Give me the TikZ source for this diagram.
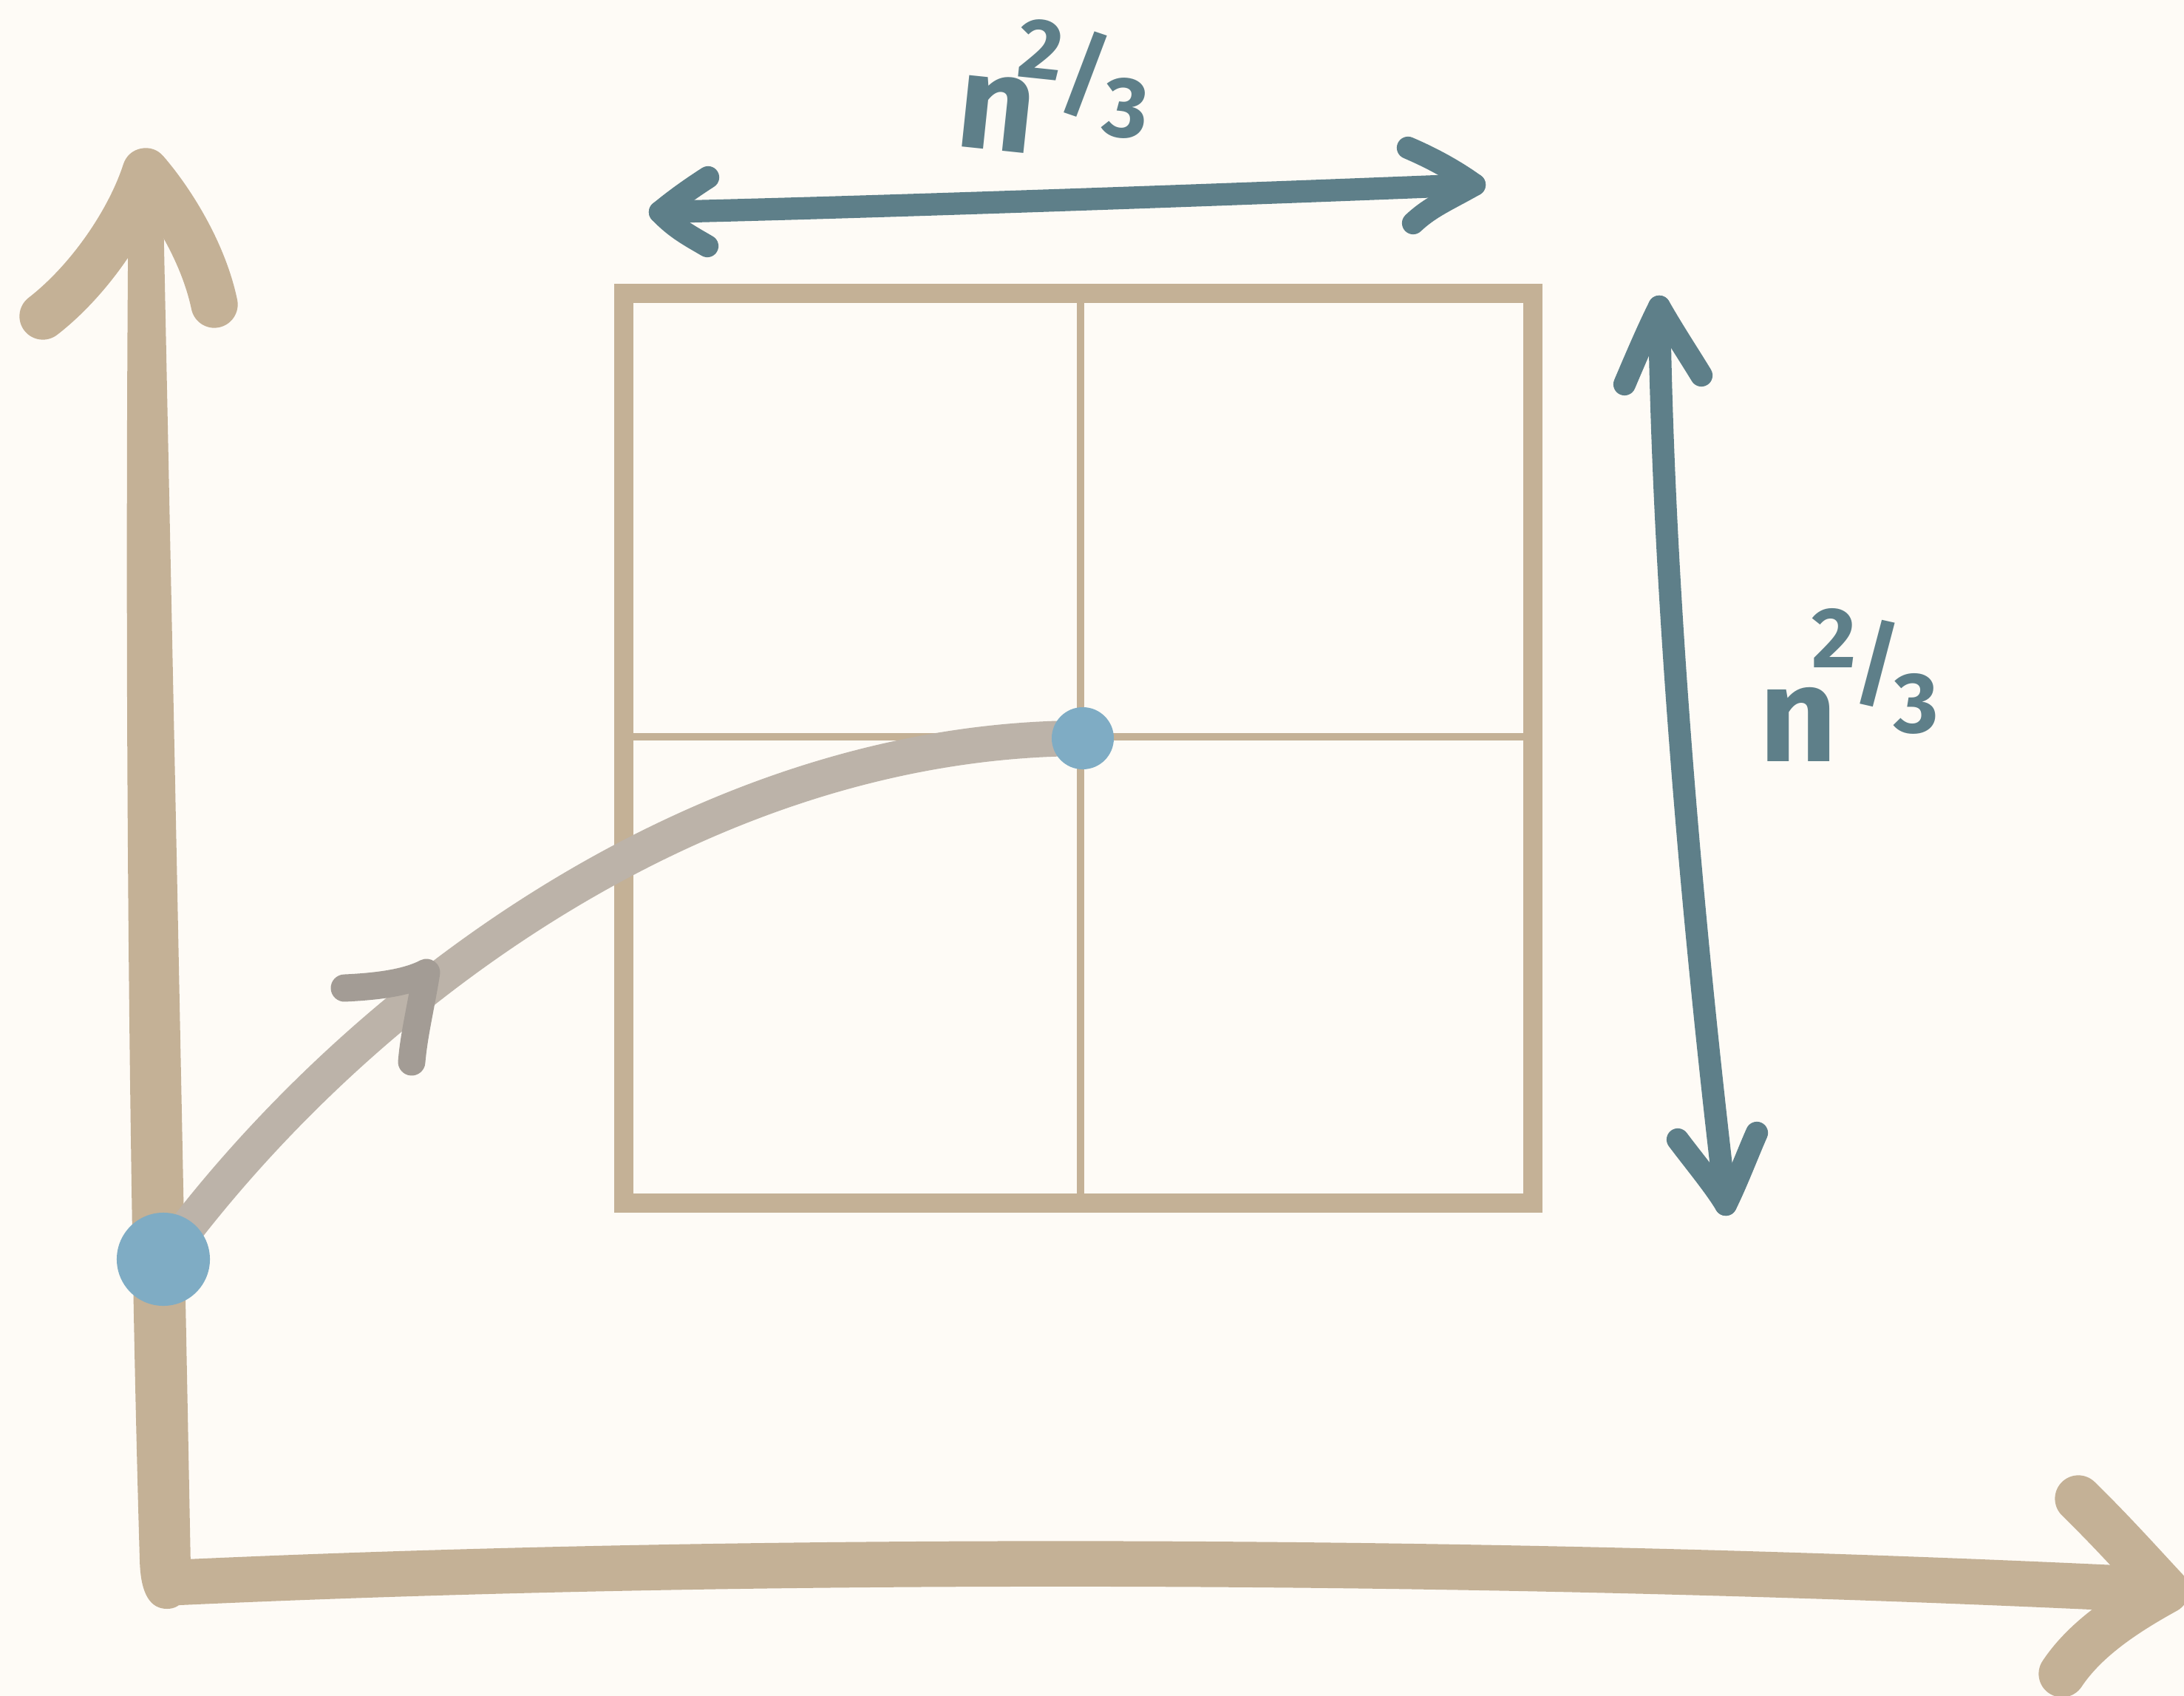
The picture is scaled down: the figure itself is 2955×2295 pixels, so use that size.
\documentclass[tikz,border=0pt]{standalone}
\usepackage{fontspec}
\setmainfont{Fira Sans}
\usetikzlibrary{calc}
\definecolor{bgc}{HTML}{FEFBF6}
\definecolor{tancol}{HTML}{C4B196}
\definecolor{curvegray}{HTML}{BCB3A9}
\definecolor{headgray}{HTML}{A39C95}
\definecolor{dotblue}{HTML}{7FACC4}
\definecolor{dimteal}{HTML}{5E7F89}
% #1 raise 2, #2 raise slash, #3 raise 3, #4 kern after n, #5 kern before slash, #6 kern after slash
\newcommand\nlabel[6]{{\fontsize{52}{52}\selectfont n}\kern#4\raisebox{#1}{\fontsize{33}{33}\selectfont 2}\kern#5\raisebox{#2}{\fontsize{36}{36}\selectfont /}\kern#6\raisebox{#3}{\fontsize{33}{33}\selectfont 3}}
\begin{document}
\begin{tikzpicture}[x=0.01cm,y=-0.01cm,
  axisline/.style={draw=tancol, line width=17.5pt, line cap=round, line join=round},
  axisbarb/.style={draw=tancol, line width=18pt, line cap=round, line join=round},
  gridframe/.style={draw=tancol, line width=7.4pt},
  gridline/.style={draw=tancol, line width=2.85pt},
  pathcurve/.style={draw=curvegray, line width=13.7pt, line cap=round},
  pathhead/.style={draw=headgray, line width=10.5pt, line cap=round, line join=round},
  dimarrow/.style={draw=dimteal, line width=8.6pt, line cap=round, line join=round},
  bluedot/.style={circle, fill=dotblue, inner sep=0pt, minimum size=#1},
  lbl/.style={text=dimteal, font=\bfseries, inner sep=0pt, anchor=base west}
]
\fill[bgc] (0,0) rectangle (2955,2295);
\useasboundingbox (0,0) rectangle (2955,2295);
\clip (0,0) rectangle (2955,2295);

% grid
\coordinate (GTL) at (844,397);
\coordinate (GBR) at (2074,1628);
\coordinate (GT) at (1462,397);
\coordinate (GB) at (1462,1628);
\coordinate (GL) at (844,997);
\coordinate (GR) at (2074,997);
\draw[gridline] (GT) -- (GB);
\draw[gridline] (GL) -- (GR);
\draw[gridframe] (GTL) rectangle (GBR);

% axes
\coordinate (O) at (226,2142);
\coordinate (Ytip) at (197,232);
\coordinate (Xtip) at (2930,2152);
\fill[tancol] (174,240) .. controls (168,900) and (174,1600) .. (189,2110)
  .. controls (190,2160) and (205,2177) .. (226,2177)
  .. controls (246,2177) and (258,2160) .. (258,2120)
  .. controls (250,1700) and (238,1100) .. (220,240) -- cycle;
\draw[axisline] (O) .. controls (1000,2106) and (2000,2106) .. (Xtip);
\draw[axisbarb] (58,428) .. controls (120,380) and (175,300) .. (Ytip) .. controls (230,270) and (275,340) .. (290,412);
\draw[axisbarb] (2812,2028) .. controls (2860,2075) and (2900,2120) .. (Xtip) .. controls (2870,2185) and (2820,2220) .. (2790,2265);

% curve
\coordinate (p) at (221,1704);
\coordinate (q) at (1465,999);
\draw[pathcurve] (p) .. controls (480,1350) and (950,1000) .. (q);
\coordinate (h) at (577,1316);
\draw[pathhead] (466,1337) .. controls (510,1335) and (550,1330) .. (h) .. controls (570,1360) and (560,1400) .. (557,1437);
\node[bluedot=1.26cm] (P) at (p) {};
\node[bluedot=0.84cm] (Q) at (q) {};

% dimension arrows
\coordinate (AL) at (893,287);
\coordinate (AR) at (1995,250);
\draw[dimarrow] (AL) .. controls (1200,280) and (1700,262) .. (AR);
\draw[dimarrow] (958,240) .. controls (930,258) and (910,273) .. (AL) .. controls (915,310) and (935,320) .. (957,333);
\draw[dimarrow] (1905,200) .. controls (1940,215) and (1970,232) .. (AR) .. controls (1960,270) and (1935,280) .. (1912,302);

\coordinate (AT) at (2245,415);
\coordinate (AB) at (2335,1630);
\draw[dimarrow] (AT) .. controls (2250,800) and (2290,1250) .. (AB);
\draw[dimarrow] (2198,520) .. controls (2215,480) and (2230,445) .. (AT) .. controls (2265,450) and (2285,480) .. (2302,508);
\draw[dimarrow] (2270,1542) .. controls (2295,1575) and (2320,1605) .. (AB) .. controls (2350,1600) and (2365,1560) .. (2377,1533);

% labels
\node[lbl, rotate=-6] (toplabel) at (1290,197) {\nlabel{29pt}{20pt}{10pt}{-9pt}{0pt}{-1pt}};
\node[lbl] (rightlabel) at (2380,1030) {\nlabel{36pt}{25pt}{11pt}{-10pt}{-1pt}{-3pt}};
\end{tikzpicture}
\end{document}
